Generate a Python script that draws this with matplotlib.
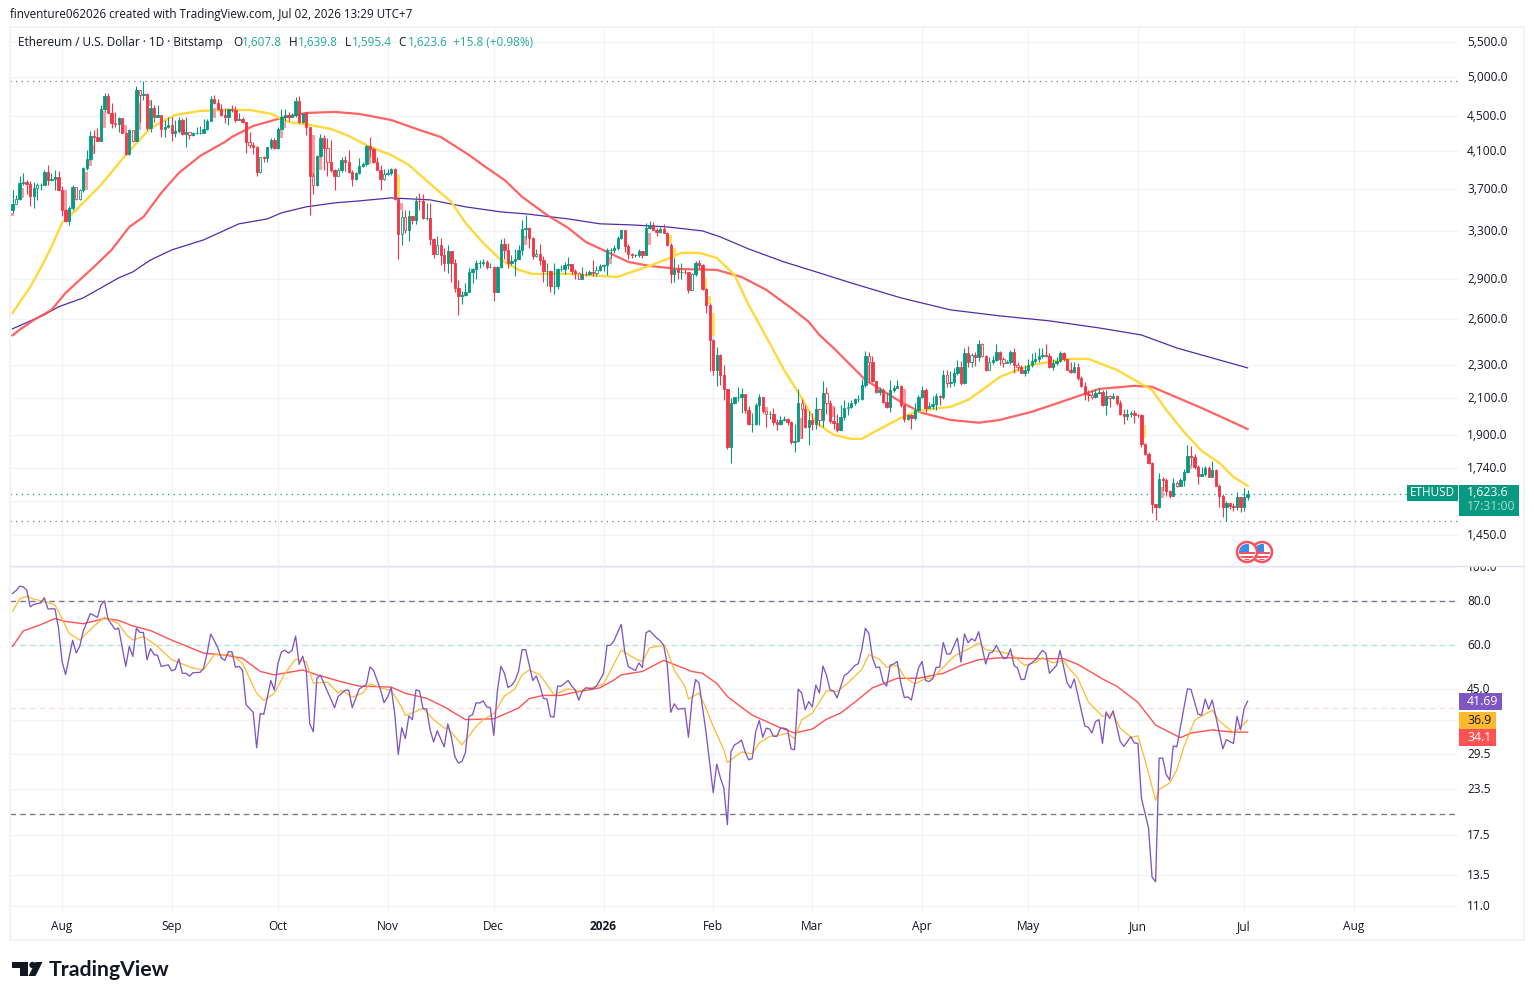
import numpy as np
import pandas as pd
import matplotlib
matplotlib.use("Agg")
import matplotlib.pyplot as plt
import matplotlib.dates as mdates
from matplotlib.patches import Rectangle, Circle, Polygon
from matplotlib.transforms import ScaledTranslation

plt.rcParams['font.family'] = ['Open Sans', 'DejaVu Sans']

# ---- daily candles (open = previous close) ----
first_open = 3490
closes = [
    3554,3597,3757,3770,3743,3624,3706,3733,3740,3873,
    3791,3801,3815,3690,3497,3387,3510,3716,3597,3690,
    3912,4007,4267,4259,4214,4586,4753,4544,4420,4404,
    4480,4305,4065,4337,4210,4833,4767,4776,4356,4606,
    4487,4510,4349,4370,4400,4305,4321,4455,4290,4317,
    4274,4298,4298,4305,4345,4447,4716,4661,4586,4514,
    4496,4586,4577,4455,4471,4431,4192,4160,4146,3866,
    4029,4018,4139,4221,4131,4345,4487,4510,4487,4510,
    4686,4435,4536,4368,3832,3740,4043,4240,4128,3982,
    3887,3825,3887,3993,3982,3866,3798,3859,3936,3958,
    4154,4116,3972,3894,3798,3852,3859,3901,3600,3278,
    3430,3307,3440,3396,3583,3578,3416,3422,3231,3103,
    3180,3095,3023,3130,3029,2832,2772,2777,2802,2957,
    2976,3029,3029,3034,2994,2994,2797,2994,3190,3133,
    3029,3040,3062,3133,3316,3325,3235,3084,3100,3055,
    2963,2963,2842,2842,2981,2981,3008,3016,2960,2945,
    2902,2942,2936,2955,2945,2970,3000,3008,3133,3139,
    3155,3235,3305,3166,3098,3090,3090,3125,3092,3325,
    3355,3311,3288,3316,3285,3180,2936,2981,2957,2957,
    2955,2816,2942,3029,3008,2822,2704,2458,2269,2358,
    2235,2152,1840,2076,2105,2105,2122,2035,1957,1960,
    2065,2105,2031,2012,2012,1968,1960,1983,1985,1968,
    1866,1872,2076,2040,1943,1983,1957,2042,1979,2128,
    2071,1975,1965,1930,1997,2045,2052,2071,2094,2098,
    2177,2356,2319,2203,2137,2150,2080,2052,2150,2160,
    2170,2062,1985,2007,1990,2033,2105,2145,2048,2056,
    2067,2116,2105,2235,2187,2195,2247,2284,2187,2372,
    2319,2361,2350,2429,2354,2265,2319,2330,2380,2337,
    2308,2319,2377,2295,2288,2251,2268,2295,2325,2335,
    2356,2361,2354,2288,2308,2325,2372,2335,2270,2255,
    2284,2218,2173,2124,2118,2105,2132,2137,2062,2116,
    2100,2116,2071,2015,2000,2012,2020,2007,2005,1857,
    1808,1765,1578,1564,1690,1682,1635,1614,1670,1659,
    1682,1723,1795,1792,1744,1704,1712,1741,1699,1729,
    1659,1614,1564,1582,1569,1566,1610,1566,1607.8,1623.6]
highs = [
    3683,3640,3825,3859,3791,3775,3764,3757,3757,3894,
    3945,3859,3887,3880,3723,3507,3528,3737,3716,3697,
    3922,4109,4325,4337,4355,4645,4788,4797,4661,4555,
    4496,4480,4310,4345,4337,4888,4833,4950,4788,4703,
    4645,4645,4510,4455,4496,4496,4455,4496,4484,4488,
    4317,4313,4368,4384,4463,4472,4753,4766,4720,4652,
    4603,4607,4645,4628,4536,4496,4435,4317,4202,4150,
    4029,4044,4139,4248,4240,4370,4586,4586,4557,4544,
    4745,4753,4544,4557,4376,3859,4055,4290,4278,4240,
    4221,3901,3915,4036,4044,4109,3894,3873,4025,3972,
    4165,4252,4139,4036,3947,3901,3901,3915,3915,3600,
    3497,3490,3497,3440,3624,3654,3645,3560,3559,3240,
    3253,3240,3155,3176,3130,3058,2890,2805,2870,2990,
    2990,3050,3050,3062,3055,3029,3005,3005,3226,3240,
    3195,3095,3140,3176,3404,3450,3335,3245,3145,3190,
    3084,3029,2970,3029,2990,3014,3034,3078,3016,2981,
    2955,2994,2963,2970,3055,3005,3016,3016,3155,3155,
    3176,3253,3311,3305,3190,3110,3105,3145,3125,3371,
    3395,3380,3325,3340,3365,3288,3195,3070,3016,3023,
    2976,2950,2950,3045,3050,3016,2832,2715,2463,2410,
    2370,2295,2155,2100,2110,2168,2160,2125,2055,2020,
    2072,2125,2105,2020,2031,2048,1985,2003,2003,1990,
    1975,1957,2155,2097,2065,2031,2020,2110,2026,2200,
    2167,2090,2052,2015,2060,2090,2080,2090,2100,2118,
    2210,2386,2378,2356,2203,2167,2160,2128,2207,2177,
    2207,2177,2070,2015,2015,2071,2118,2170,2160,2080,
    2112,2128,2118,2268,2268,2258,2278,2330,2325,2403,
    2416,2372,2382,2459,2440,2361,2346,2352,2429,2385,
    2345,2330,2392,2403,2319,2295,2298,2337,2372,2382,
    2403,2403,2429,2372,2337,2350,2387,2377,2337,2319,
    2319,2308,2233,2197,2145,2150,2155,2160,2150,2150,
    2118,2128,2118,2090,2043,2043,2030,2033,2015,2012,
    1860,1815,1768,1580,1718,1700,1695,1638,1692,1680,
    1695,1737,1853,1845,1808,1752,1744,1749,1749,1775,
    1733,1664,1622,1593,1582,1584,1630,1610,1650,1639.8]
lows = [
    3465,3554,3592,3740,3647,3535,3516,3585,3683,3733,
    3737,3774,3683,3683,3434,3380,3357,3497,3590,3592,
    3670,3894,4000,4073,4206,4206,4565,4536,4360,4376,
    4309,4298,4058,4058,4202,4210,4435,4703,4337,4317,
    4435,4496,4259,4259,4356,4214,4259,4298,4278,4137,
    4230,4267,4286,4286,4298,4337,4447,4648,4577,4505,
    4424,4395,4557,4435,4455,4424,4073,4128,4065,3825,
    3860,3979,3972,4124,4116,4116,4345,4447,4443,4487,
    4496,4424,4424,4278,3443,3650,3723,4036,3894,3825,
    3875,3683,3825,3875,3884,3860,3723,3791,3852,3922,
    3929,4029,3965,3887,3683,3791,3838,3838,3592,3062,
    3180,3284,3210,3365,3365,3497,3412,3404,3176,3066,
    3103,3014,2963,2950,2872,2797,2632,2710,2772,2797,
    2866,2902,2990,3000,2976,2985,2728,2797,2990,3058,
    2990,3014,2923,3062,3095,3231,3155,3062,3079,3010,
    2872,2847,2797,2787,2822,2963,2936,2976,2936,2898,
    2897,2897,2923,2928,2923,2923,2963,2963,2928,3070,
    3110,3139,3231,3120,3062,3070,3079,3079,3070,3090,
    3316,3305,3258,3285,3280,3166,2866,2872,2897,2902,
    2936,2792,2816,2923,2976,2816,2646,2258,2235,2172,
    2178,2090,1830,1762,2068,2083,2020,2020,1952,1918,
    1952,1952,2016,1943,1985,1952,1926,1952,1975,1952,
    1856,1818,1866,1885,1940,1850,1926,1935,1950,1944,
    2015,1963,1935,1917,1930,1979,2007,2045,2060,2080,
    2090,2167,2187,2197,2131,2118,2071,2048,2022,2137,
    2160,2052,1970,1979,1935,1979,2022,2100,2022,2048,
    2042,2033,2062,2094,2167,2163,2173,2237,2177,2183,
    2288,2288,2292,2325,2345,2258,2265,2305,2325,2300,
    2288,2308,2305,2247,2258,2247,2233,2247,2288,2308,
    2314,2340,2345,2282,2268,2295,2319,2325,2265,2247,
    2247,2207,2167,2090,2086,2094,2100,2124,2056,2007,
    2052,2094,2062,2010,1960,1983,1998,1965,1998,1841,
    1800,1760,1541,1511,1560,1640,1615,1603,1611,1651,
    1659,1656,1718,1754,1736,1668,1702,1702,1696,1696,
    1656,1564,1525,1509,1559,1549,1552,1546,1550,1595.4]
hollow_idx = [1,7,18,19,29,34,36,50,67,70,85,89,92,105,110,111,120,148,160,165,167,192,
              213,223,228,230,236,242,264,271,274,276,280,284,305,310,316,329]

# pale ghost bars seen in the chart
pink_idx = [0,3,15,21,22,23,26,32,36,39,57,76,77,85,87,101,110,118,145,150,169,180,213,220,223,232,242,243,252,320,322,325,333]
pink_top = [3465,3706,3690,3873,4007,4165,4565,4395,4661,4703,4603,4337,4430,4278,4036,4109,3560,3370,3253,3029,3079,3285,2050,1955,1990,2056,2300,2300,2155,1838,1712,1651,1756]
pink_bot = [3434,3608,3497,3683,3929,4065,4356,4305,4337,4625,4484,4247,4356,3828,3894,3958,3497,3253,3180,2990,3016,3176,2030,1884,1883,1998,2192,2235,2071,1808,1622,1606,1733]
yellow_idx = [109,186,187,196,197,198,320]
yellow_top = [3840,3265,3155,2910,2766,2647,1955]
yellow_bot = [3615,3195,3070,2757,2710,2485,1888]

# ---- moving averages on price ----
ma_y_idx = [0,5,8,11,14,18,25,32,39,46,53,60,67,73,78,84,90,95,101,107,112,119,124,128,133,138,143,147,157,166,171,
            175,180,185,189,194,199,204,208,213,218,223,227,232,237,240,243,251,256,260,265,270,274,279,284,288,
            293,298,304,307,312,317,322,326,331,336,341,345,349]
ma_y_val = [2645,2837,2988,3161,3373,3494,3738,4053,4360,4516,4565,4577,4577,4530,4431,4396,4348,4267,4142,4053,3945,3718,
            3570,3373,3195,3052,2971,2939,2939,2923,2915,2955,3003,3060,3111,3111,3069,2931,2703,2479,2268,2102,1966,
            1903,1882,1882,1913,1992,2030,2041,2052,2091,2148,2225,2268,2298,2317,2336,2336,2311,2268,2207,2148,2036,
            1918,1822,1764,1698,1658]
ma_r_idx = [0,2,6,11,15,19,23,28,33,37,42,47,53,57,60,62,68,76,83,91,98,107,115,121,129,134,139,144,151,157,162,168,174,
            180,188,199,206,213,220,225,228,232,241,251,257,265,273,279,288,298,307,317,322,326,336,349]
ma_r_val = [2490,2527,2595,2666,2792,2892,2995,3136,3337,3428,3657,3861,4042,4130,4198,4255,4383,4479,4540,4553,4528,
            4455,4336,4255,4053,3914,3789,3619,3447,3328,3204,3119,3036,3003,2979,2971,2915,2815,2681,2582,2492,2406,
            2207,2080,2019,1981,1966,1981,2025,2091,2154,2172,2166,2131,2046,1933]
ma_n_idx = [0,9,13,20,25,30,34,39,45,54,64,72,76,83,91,98,107,118,128,138,145,157,166,175,185,195,200,208,218,228,
            237,251,265,279,293,307,319,329,336,349]
ma_n_val = [2534,2632,2689,2755,2830,2908,2955,3052,3136,3222,3365,3410,3466,3523,3561,3580,3609,3590,3523,3475,3457,
            3410,3365,3355,3337,3301,3248,3144,3036,2947,2868,2755,2667,2624,2589,2540,2492,2406,2361,2280]

# ---- RSI pane ----
rsi_idx = [0,1,2,3,4,5,6,8,9,10,12,13,14,15,17,18,19,20,22,24,25,26,27,29,30,32,33,34,35,36,37,38,39,40,41,42,44,45,46,47,
           48,49,50,51,53,54,55,56,57,58,59,60,61,62,63,64,65,66,68,69,70,71,73,74,75,76,77,78,79,80,81,82,83,84,85,86,87,
           89,91,92,94,95,96,98,100,101,102,104,105,106,107,108,109,110,111,112,113,114,115,116,117,118,119,120,122,123,
           124,125,126,127,128,129,130,131,132,133,134,135,136,137,138,139,140,141,142,143,144,145,146,147,148,149,150,
           151,152,153,154,155,157,158,159,160,161,162,164,165,167,168,169,170,172,173,174,176,177,178,179,180,182,183,
           184,185,186,187,188,190,191,192,193,194,196,198,199,200,201,202,203,204,205,206,207,208,209,210,211,212,213,
           214,215,216,217,218,219,220,221,222,223,224,225,226,227,228,229,230,231,232,233,235,236,238,239,240,241,242,
           243,244,245,246,247,248,249,250,251,252,253,254,255,256,257,258,259,260,261,262,263,264,265,267,268,269,270,
           271,272,273,275,276,277,278,280,281,282,283,284,285,286,287,289,291,292,293,295,296,297,298,299,300,303,304,
           305,306,307,308,309,310,311,313,314,316,317,318,319,321,322,323,324,325,326,327,328,329,332,333,335,336,337,
           338,339,342,343,345,346,347,348,349]
rsi_val = [84,85.5,88,87.7,86,77,78.2,79,81.7,76,76,67,54,49.6,62,57,59.6,65.8,73.7,71.9,78,80,71,66.5,67,52.3,59.5,55.8,
           67,65.2,65.2,54.6,58.7,56.4,56.2,52.3,52.8,50.8,51.3,54.9,50,50,49.1,50.2,50.3,51.7,57,64.5,61.9,59,55.2,54.4,
           57.5,57.5,52,52.3,51,40.8,38.8,30.8,38.5,38.3,47.7,44.8,53.2,57.5,58.1,57,58.1,63.7,53,55.9,51,36,34.2,48.4,
           49.4,44.4,40,43,44.8,44.8,40,45.2,46.5,52.1,51,44.9,41.3,42.9,45.6,38.5,29.5,35.1,32.7,37.9,37,44.9,44.6,39.7,
           39.7,34.6,32,34.4,31,36,33.1,29.1,27.9,28.2,29.9,37.8,38.2,41.3,41.2,41.8,40.2,40,33.4,44.5,52.3,50,45.6,46.2,
           47.7,50.7,58.3,58.3,52.9,47.7,49.1,46.2,42.5,42.3,37.8,37.6,46,46,47.7,46,44.9,42,44.5,45.5,45.2,46,49.9,59.9,
           60,61.9,68.7,57.5,52.2,50.9,53.5,51.9,65,66,62.9,61.8,60,53,38.8,41,39.6,39.8,33,42,48,46.9,33.9,23,27.7,25.4,
           23.7,18.7,30,31.4,31.8,32.4,30,28.5,28.7,34.2,36.8,33,35,34.8,33.2,33.2,35,35,34.7,30.6,30.4,45.1,44,39.5,41.6,
           40.2,46.3,44,52.4,49.4,44.9,44.6,42.6,49.2,50,52.6,53.2,58.5,67,64.6,55.3,51.9,52.1,47.3,46,52.7,53.1,54,46.9,
           42.7,42.9,42,46.9,51.7,54,47.7,47.4,48.2,52,52,61.1,56.7,56.7,62.9,53.8,64.6,61,62.6,61.7,65.5,53.1,56.9,57.5,
           59.9,55,55.2,58.6,52.6,51.7,48,48.1,52.6,54.5,58,57,50,52.6,58,52.2,47,45.4,48.2,35.5,35.2,33.9,36.5,37,31.7,
           38.9,37.3,39.2,32.1,31.1,33.1,31.8,31.7,22.2,18.3,13.3,12.9,28.8,28.8,25.9,25,31.2,31,45.2,45,38.3,38.1,42.3,
           39.6,42,30.6,32.5,31.7,37.8,34.6,39.8,41.69]
rsi_y_idx = [0,2,4,6,9,12,13,16,19,23,26,30,32,34,37,41,45,51,54,57,62,65,69,71,74,77,80,83,85,89,92,93,96,99,101,105,107,
             110,111,114,116,119,122,123,127,131,133,136,139,142,144,146,149,153,157,160,167,172,176,178,180,184,185,187,
             190,191,194,196,198,201,202,206,209,211,214,217,219,221,223,226,228,230,233,236,240,242,245,247,250,252,255,
             258,260,263,266,267,270,273,275,281,283,286,289,291,294,297,299,301,304,308,311,313,316,318,320,323,324,327,
             329,331,334,335,339,341,345,347,349]
rsi_y_val = [74.7,81,82.5,81,79.7,78,74.7,64.8,62,67.9,72,69,64.5,62,63.5,59.5,54.6,51.7,51.1,56.4,56.4,53.3,43.9,41.9,43.9,
             50,54.8,53.9,46.9,47.2,44,44.8,42.8,44,46.7,45.2,44.8,40.1,38,39,39.9,37,35,35,31.4,35.4,37,38.5,43.1,45.2,49.6,
             51,49.6,43.5,45.2,44.5,46.6,58.2,54.9,53.9,59,60,58,51,46,42.3,44,39.8,35.4,30.4,28,30,29.6,31.8,33.2,33.5,33.9,
             32.7,37,38.6,41.5,44.6,44.4,46.9,51.3,56.5,54.7,52,52.7,48.9,46.6,48.4,48.4,52,55.7,56.6,58.5,60.9,58.3,57,55.8,
             52.7,53.6,55.3,53.5,54.3,51,48.5,41.5,37.8,38.4,35,33,33.3,28.5,21.9,23.5,24.5,26.7,31,36.8,37.4,39.3,36.7,34,
             35.2,36.9]
rsi_r_idx = [0,3,8,12,15,20,26,30,34,39,45,54,60,65,70,74,82,86,93,98,107,111,117,122,128,136,140,143,146,150,155,158,166,
             170,172,178,184,192,195,199,202,206,209,217,221,226,230,234,239,243,247,250,256,263,268,273,280,287,297,301,308,
             312,318,323,330,333,339,345,349]
rsi_r_val = [59.5,65.8,68.6,71.4,70,69,71.4,70.5,68,66,62,57,56.3,55.1,50.6,49.5,51.1,49.5,47.3,46,45.7,43.9,42.5,40.2,37,
             37.2,38.7,39.9,42.4,43.3,43.3,44,45.5,47.9,49.5,50.6,54.4,50.6,50,46.8,43,40.1,38.1,35.1,33.9,34.8,37.1,38.6,
             42.2,45.5,47.1,48.4,48.4,50,52.6,54.6,55.4,55,55,53,48.2,46,41.4,35.7,32.9,33.9,34.6,34.1,34.1]

price_ticks = [5500,5000,4500,4100,3700,3300,2900,2600,2300,2100,1900,1740,1590,1450]
price_labels = ['5,500.0','5,000.0','4,500.0','4,100.0','3,700.0','3,300.0','2,900.0','2,600.0','2,300.0','2,100.0',
                '1,900.0','1,740.0','','1,450.0']
rsi_ticks = [100,80,60,45,37,29.5,23.5,17.5,13.5,11]
rsi_labels = ['100.0','80.0','60.0','45.0','','29.5','23.5','17.5','13.5','11.0']

teal = '#089981'
red = '#F23645'
ink = '#131722'
grid_c = '#F0F3FA'

n = len(closes)
dates = pd.date_range(end='2026-07-02', periods=n)
x = mdates.date2num(dates)
closes = np.array(closes, dtype=float)
opens = np.r_[first_open, closes[:-1]]
up = closes >= opens

W, H = 1534, 1000
fig = plt.figure(figsize=(W/100, H/100), dpi=100, facecolor='white')
ax = fig.add_axes([10/W, 1-566/H, 1448/W, 539/H])
ax2 = fig.add_axes([10/W, 1-912/H, 1448/W, 346/H])

day_px = 3.539
xlim = (x[0]-2.5/day_px, x[0]+(1458-12.5)/day_px)
months = pd.date_range('2025-08-01', '2026-08-01', freq='MS')
month_labels = ['2026' if d.month == 1 else d.strftime('%b') for d in months]

# price pane
ax.set_yscale('log')
ax.set_xlim(xlim)
ax.set_ylim(1335, 5727)
ax.plot(x[ma_n_idx], ma_n_val, color='#512DA8', lw=.9, zorder=2)
ax.plot(x[ma_r_idx], ma_r_val, color='#FF5252', lw=1.6, alpha=.9, zorder=2)
ax.plot(x[ma_y_idx], ma_y_val, color='#FFD93B', lw=1.7, zorder=2)
pt = np.array(pink_top); pb = np.array(pink_bot)
ax.bar(x[pink_idx], pt-pb, bottom=pb, width=.75, color='#F99CA3', lw=0, zorder=2.5)
yt = np.array(yellow_top); yb = np.array(yellow_bot)
ax.bar(x[yellow_idx], yt-yb, bottom=yb, width=.75, color='#FFE45C', lw=0, zorder=2.5)

cols = np.where(up, teal, red)
ax.vlines(x, lows, highs, colors=cols, lw=.8, zorder=3)
tops = np.maximum(opens, closes)
bots = np.minimum(opens, closes)
faces = cols.copy()
faces[hollow_idx] = 'white'
ax.bar(x, tops-bots, bottom=bots, width=.66, color=faces, edgecolor=cols, lw=.6, zorder=4)

ax.axhline(4950, color='#787B86', lw=.9, ls=(0, (1, 3.5)), zorder=1)
ax.axhline(1507, color='#787B86', lw=.9, ls=(0, (1, 3.5)), zorder=1)
ax.axhline(1623.6, color=teal, lw=.9, ls=(0, (1, 3.5)), zorder=1)

# RSI pane
ax2.set_yscale('log')
ax2.set_xlim(xlim)
ax2.set_ylim(10.6, 100.4)
ax2.axhline(80, color='#787B86', lw=1, ls=(0, (4, 3)), zorder=1.5)
ax2.axhline(20, color='#787B86', lw=1, ls=(0, (4, 3)), zorder=1.5)
ax2.axhline(60, color='#B7E6D9', lw=1, ls=(0, (4, 3)), zorder=1.5)
ax2.axhline(40, color='#F9DFE2', lw=1, ls=(0, (4, 3)), zorder=1.5)
ax2.plot(x[rsi_r_idx], rsi_r_val, color='#FF5252', lw=1.0, zorder=3)
ax2.plot(x[rsi_y_idx], rsi_y_val, color='#FFB92E', lw=.9, zorder=3)
ax2.plot(x[rsi_idx], rsi_val, color='#7E57C2', lw=.95, zorder=4)

nudge = ScaledTranslation(0, 1/100, fig.dpi_scale_trans)
for a, ticks, labels in ((ax, price_ticks, price_labels), (ax2, rsi_ticks, rsi_labels)):
    a.set_yticks(ticks, labels)
    a.minorticks_off()
    a.yaxis.tick_right()
    a.tick_params(axis='y', length=0, pad=6.5, labelsize=8.6, labelcolor=ink)
    for lab in a.get_yticklabels():
        lab.set_transform(lab.get_transform() + nudge)
    a.set_xticks(mdates.date2num(months))
    a.grid(True, color=grid_c, lw=.9, zorder=0)
    a.set_axisbelow(True)
    for s in a.spines.values():
        s.set_visible(False)
ax.tick_params(axis='x', length=0, labelbottom=False)
ax2.set_xticklabels(month_labels)
ax2.tick_params(axis='x', length=0, pad=5.5, labelsize=8.6, labelcolor=ink)
ax2.get_xticklabels()[5].set_fontweight('bold')

# overlay in picture pixels: frame, header, last-value boxes, logo
ov = fig.add_axes([0, 0, 1, 1], zorder=10)
ov.set_xlim(0, W)
ov.set_ylim(H, 0)
ov.axis('off')
ov.patch.set_alpha(0)

ov.add_patch(Rectangle((1459, 552), 64, 14, fc='white', ec='none'))
ov.plot([10, 1524], [566, 566], color='#E0E3EB', lw=1)
ov.add_patch(Rectangle((10, 27), 1514, 913, fc='none', ec='#EFF1F6', lw=1.2))

ov.text(10, 14.5, 'finventure062026 created with TradingView.com, Jul 02, 2026 13:29 UTC+7',
        fontsize=8.4, color=ink, va='center')
ov.text(18, 42.5, 'Ethereum / U.S. Dollar · 1D · Bitstamp', fontsize=8.5, color=ink, va='center')
green = '#22AB94'
for lab, lx, val, vx in (('O', 233, '1,607.8', 242), ('H', 288.5, '1,639.8', 298),
                         ('L', 345, '1,595.4', 352), ('C', 398, '1,623.6', 408)):
    ov.text(lx, 42.5, lab, fontsize=8.5, color=ink, va='center')
    ov.text(vx, 42.5, val, fontsize=8.5, color=green, va='center')
ov.text(453, 42.5, '+15.8 (+0.98%)', fontsize=8.5, color=green, va='center')

# current price boxes
ov.add_patch(Rectangle((1407, 485), 51, 16, fc=teal, ec='none'))
ov.text(1432.5, 493, 'ETHUSD', fontsize=8.5, color='white', ha='center', va='center')
ov.add_patch(Rectangle((1459, 485), 60, 31, fc=teal, ec='none'))
ov.text(1467, 493, '1,623.6', fontsize=8.8, color='white', va='center', fontweight='medium')
ov.text(1467, 507, '17:31:00', fontsize=8.8, color='#A8DCD0', va='center')

for txt, y0, w, fc, tc in (('41.69', 693, 43, '#7E57C2', 'white'),
                           ('36.9', 712, 37, '#FFB92E', ink),
                           ('34.1', 729, 37, '#FF5252', 'white')):
    ov.add_patch(Rectangle((1459, y0), w, 17, fc=fc, ec='none'))
    ov.text(1467, y0+8.5, txt, fontsize=8.8, color=tc, va='center')

# event flag markers
for cx in (1262, 1247):
    ring = Circle((cx, 552), 10, fc='white', ec='#F7525F', lw=1.8)
    ov.add_patch(ring)
    clip = Circle((cx, 552), 8, transform=ov.transData)
    for yy, hh in ((551.5, 2.2), (555.5, 2.2), (558.5, 2.5)):
        r = Rectangle((cx-9, yy), 18, hh, fc='#F7525F', ec='none')
        ov.add_patch(r)
        r.set_clip_path(clip)
    r = Rectangle((cx-9, 544), 11, 8, fc='#3D8BE8', ec='none')
    ov.add_patch(r)
    r.set_clip_path(clip)

# logo
ov.add_patch(Polygon([(12, 962), (28, 962), (28, 976), (19.5, 976), (19.5, 968), (12, 968)], fc=ink, ec='none'))
ov.add_patch(Circle((32.5, 965), 3.2, fc=ink, ec='none'))
ov.add_patch(Polygon([(35.5, 962), (42.5, 962), (35.5, 976), (28.5, 976)], fc=ink, ec='none'))
ov.text(49, 969.5, 'TradingView', fontsize=15.3, fontweight='bold', family=['Lato', 'DejaVu Sans'], color=ink, va='center')

fig.savefig('out.png', dpi=100)
